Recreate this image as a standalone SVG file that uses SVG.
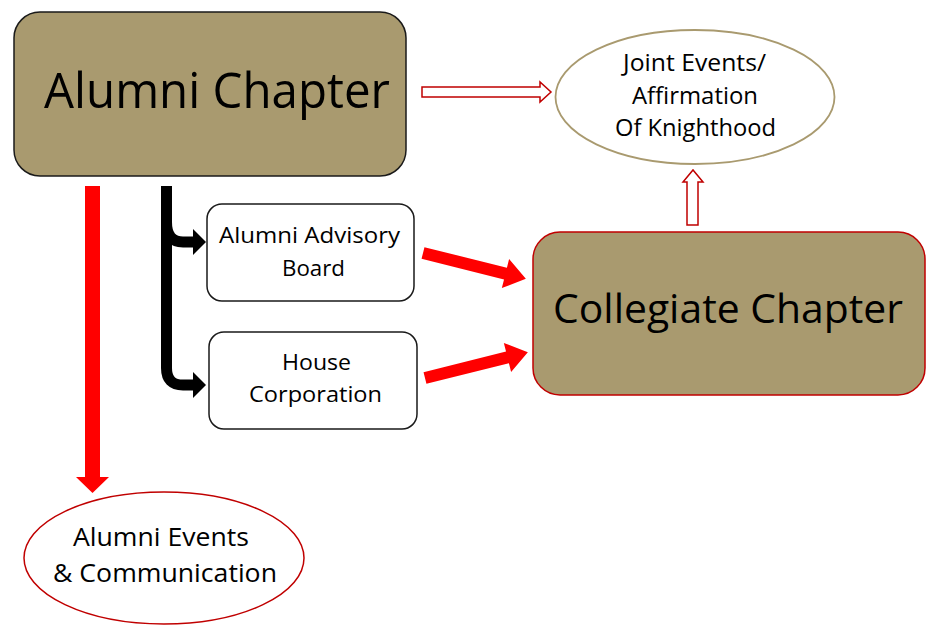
<svg xmlns="http://www.w3.org/2000/svg" width="926" height="625" viewBox="0 0 926 625">
<style>
text{font-family:"Open Sans","Noto Sans","Liberation Sans",sans-serif;fill:#000}
.tan{fill:#A99A6F}
.white{fill:#fff}
.blk{stroke:#1a1a1a;stroke-width:1.5}
.redb{stroke:#C00000;stroke-width:1.5}
.tanb{stroke:#A99A6F;stroke-width:1.8}
.hollow{fill:#fff;stroke:#C00000;stroke-width:1.5}
.solid{fill:#FF0000}
</style>
<rect width="926" height="625" fill="#fff"/>
<g id="connectors">
  <polygon class="hollow" points="422,87 540,87 540,82 551,92 540,102 540,97 422,97"/>
  <polygon class="hollow" points="687,225 687,182 683,182 693,170 703,182 698,182 698,225"/>
  <polygon class="solid" points="85,186 100,186 100,477 109,477 92.5,493 76,477 85,477"/>
  <g fill="none" stroke="#000" stroke-width="11">
    <path d="M166.5 186 V368 Q166.5 385 183 385 H194"/>
    <path d="M166.5 222 Q166.5 242 183 242 H194"/>
  </g>
  <polygon fill="#000" points="193,229 206,242 193,255"/>
  <polygon fill="#000" points="193,372 206,385 193,398"/>
  <g id="arrow-aab">
    <polygon class="solid" transform="translate(423,253) rotate(14)" points="0,-6 85,-6 85,-15 106,0 85,15 85,6 0,6"/>
  </g>
  <g id="arrow-hc">
    <polygon class="solid" transform="translate(425,378) rotate(-14)" points="0,-6 85,-6 85,-15 106,0 85,15 85,6 0,6"/>
  </g>
</g>
<g id="alumni-chapter">
  <rect class="tan blk" x="14" y="12" width="392" height="164" rx="26"/>
  <text x="44" y="108" font-size="50" textLength="346" lengthAdjust="spacingAndGlyphs">Alumni Chapter</text>
</g>
<g id="joint-events">
  <ellipse class="white tanb" cx="695" cy="97" rx="139.5" ry="67"/>
  <text x="623" y="71" font-size="23" textLength="143" lengthAdjust="spacingAndGlyphs">Joint Events/</text>
  <text x="632" y="104" font-size="23" textLength="126" lengthAdjust="spacingAndGlyphs">Affirmation</text>
  <text x="615" y="136" font-size="23" textLength="161" lengthAdjust="spacingAndGlyphs">Of Knighthood</text>
</g>
<g id="alumni-advisory-board">
  <rect class="white blk" x="207" y="204" width="207" height="97" rx="15"/>
  <text x="219" y="243" font-size="22" textLength="181" lengthAdjust="spacingAndGlyphs">Alumni Advisory</text>
  <text x="282" y="276" font-size="22" textLength="63" lengthAdjust="spacingAndGlyphs">Board</text>
</g>
<g id="house-corporation">
  <rect class="white blk" x="209" y="332" width="208" height="97" rx="15"/>
  <text x="282" y="370" font-size="22" textLength="69" lengthAdjust="spacingAndGlyphs">House</text>
  <text x="249" y="402" font-size="22" textLength="133" lengthAdjust="spacingAndGlyphs">Corporation</text>
</g>
<g id="collegiate-chapter">
  <rect class="tan redb" x="533" y="232" width="392" height="163" rx="27"/>
  <text x="553" y="323" font-size="40" textLength="350" lengthAdjust="spacingAndGlyphs">Collegiate Chapter</text>
</g>
<g id="alumni-events">
  <ellipse class="white redb" cx="164" cy="558" rx="140" ry="66"/>
  <text x="73" y="546" font-size="26" textLength="176" lengthAdjust="spacingAndGlyphs">Alumni Events</text>
  <text x="53" y="582" font-size="26" textLength="224" lengthAdjust="spacingAndGlyphs">&amp; Communication</text>
</g>
</svg>
